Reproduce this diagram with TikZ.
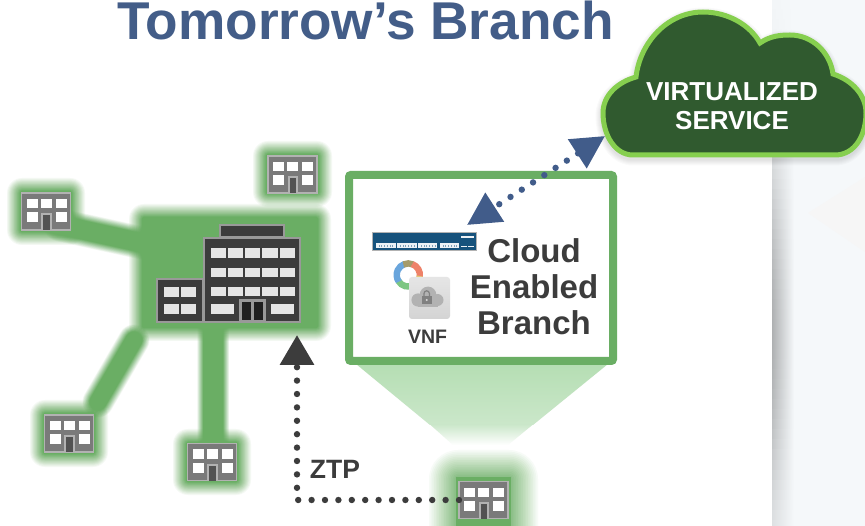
\documentclass[tikz,border=0pt]{standalone}
\usepackage{fontspec}
\setmainfont{Liberation Sans}
\usetikzlibrary{arrows.meta,calc}
\definecolor{titleblue}{HTML}{435D88}
\definecolor{arrowblue}{HTML}{415C8A}
\definecolor{glowgreen}{HTML}{6AAE64}
\definecolor{framegreen}{HTML}{6AAE64}
\definecolor{darktext}{HTML}{3C3C3C}
\definecolor{panelc}{HTML}{F5F8FA}
\definecolor{clouddark}{HTML}{305A2F}
\definecolor{cloudedge}{HTML}{86CF4F}
\definecolor{switchblue}{HTML}{16527C}
\tikzset{
  x=1pt,y=-1pt,
  label text/.style={text=darktext,font=\bfseries,inner sep=0pt,align=center},
  branch/.style={rectangle,inner sep=0pt,outer sep=0pt,minimum width=49pt,minimum height=37pt,
    fill=black!52,draw=black!30,line width=1.6pt},
  hqblock/.style={rectangle,inner sep=0pt,outer sep=0pt,fill=darktext,draw=black!40,line width=2pt},
  hqwin/.style={fill=black!10},
  dotline/.style={line width=6.4pt,line cap=round,dash pattern=on 0pt off 13.4pt},
}
% soft box: x1 y1 x2 y2 spread (linear alpha ramp)
\newcommand{\softbox}[5]{%
  \foreach \dd in {1,...,14}{%
    \pgfmathsetmacro\ds{#5*(15-\dd)/14}%
    \pgfmathsetmacro\op{1/(16-\dd)}%
    \fill[glowgreen,opacity=\op,rounded corners={\ds*1pt+2pt}] ({#1-\ds},{#2-\ds}) rectangle ({#3+\ds},{#4+\ds});
  }%
  \fill[glowgreen,rounded corners=2pt] (#1,#2) rectangle (#3,#4);
}
% soft link: from to core-width spread
\newcommand{\softlink}[4]{%
  \foreach \dd in {1,...,12}{%
    \pgfmathsetmacro\ds{#3+2*#4*(13-\dd)/12}%
    \pgfmathsetmacro\op{1/(14-\dd)}%
    \draw[glowgreen,opacity=\op,line cap=round,line width=\ds pt] (#1) -- (#2);
  }%
  \draw[glowgreen,line cap=round,line width=#3 pt] (#1) -- (#2);
}
% windows and door of a small branch building
\newcommand{\branchdetail}[1]{%
  \begin{scope}[shift={(#1.north west)}]
    \foreach \wx in {5,19,34}{\fill[white] (\wx,6) rectangle ++(11,9.5);}
    \fill[white] (5,19.5) rectangle ++(11,9.5);
    \fill[white] (34,19.5) rectangle ++(11,9.5);
    \fill[black!30] (19.5,20) rectangle (30,37);
    \fill[black!68] (21.5,22) rectangle (28,37);
  \end{scope}}
\def\cloudpath{(633,155) .. controls (615,155) and (603,135) .. (603,113)
  .. controls (603,95) and (618,82) .. (636,77)
  .. controls (640,42) and (668,12) .. (703,12)
  .. controls (728,12) and (750,25) .. (760,43)
  .. controls (770,36) and (780,35) .. (790,35)
  .. controls (812,35) and (830,52) .. (833,74)
  .. controls (852,80) and (866,95) .. (866,113)
  .. controls (866,135) and (855,155) .. (835,155) -- cycle}
\begin{document}
\begin{tikzpicture}
\useasboundingbox (0,0) rectangle (865,526);
\clip (0,0) rectangle (865,526);
% background panel
\fill[white] (0,0) rectangle (865,526);
\fill[panelc] (772,0) rectangle (865,526);
\fill[black!3.5] (808,213) -- (865,177) -- (865,252) -- cycle;
\foreach \yy in {0,10,...,520}{
  \pgfmathsetmacro\pp{29*exp(-((\yy-330)/179)*((\yy-330)/179))}
  \shade[left color=black!\pp!panelc,right color=panelc,shading angle=90]
    (772,\yy) rectangle (794,\yy+10.5);
}
% named ends of the soft links
\coordinate (linkLa) at (60,225);
\coordinate (linkLb) at (142,243);
\coordinate (linkBLa) at (134,340);
\coordinate (linkBLb) at (98,402);
\coordinate (linkBa) at (213,325);
\coordinate (linkBb) at (213,445);
% trapezoid
\shade[top color={rgb,255:red,181;green,222;blue,179},bottom color={rgb,255:red,203;green,231;blue,202}]
  (356,364) -- (608,364) -- (533,425) -- (430,425) -- cycle;
\shade[top color={rgb,255:red,203;green,231;blue,202},bottom color=white]
  (430,424.5) -- (533,424.5) -- (508,445) -- (453,445) -- cycle;
% glows
\softbox{142}{217}{318}{328}{13}
\softbox{266}{154}{319}{194}{13}
\softbox{20}{191}{72}{232}{13}
\softbox{43}{413}{95}{454}{13}
\softbox{186}{442}{238}{482}{13}
\softlink{linkLa}{linkLb}{19}{7}
\softlink{linkBLa}{linkBLb}{17}{7}
\softlink{linkBa}{linkBb}{20}{6}
% bottom branch glow (paler with a solid core)
\foreach \dd in {1,...,16}{
  \pgfmathsetmacro\ds{27*(17-\dd)/16}
  \pgfmathsetmacro\op{.75/(16-.75*(\dd-1))}
  \fill[fill=glowgreen,opacity=\op,rounded corners={\ds*1pt+2pt}] ({456-\ds},{477-\ds}) rectangle ({511+\ds},{560});
}
\fill[glowgreen] (456,477) rectangle (511,526);
% branches
\node[branch] (br1) at (292.5,174.5) {};
\node[branch] (br2) at (46,211.5) {};
\node[branch] (br3) at (69,433.5) {};
\node[branch] (br4) at (212,462) {};
\node[branch] (br5) at (483.5,500) {};
\branchdetail{br1}\branchdetail{br2}\branchdetail{br3}\branchdetail{br4}\branchdetail{br5}
% headquarters
\node[hqblock,minimum width=64pt,minimum height=12pt] (hqtop) at (252,231) {};
\node[hqblock,minimum width=46pt,minimum height=43pt] (hqwing) at (180,300.5) {};
\node[hqblock,minimum width=96pt,minimum height=84pt] (hq) at (252,280) {};
\foreach \wy in {248.3,267.7,286.7}{
  \foreach \wx in {210.7,227.9,245,262.3,279.7}{
    \fill[hqwin] (\wx,\wy) rectangle ++(15.2,9.6);
  }
}
\fill[hqwin] (211,304.3) rectangle (234,314.3);
\fill[hqwin] (271,304.3) rectangle (294.3,314.3);
\fill[black!40] (239,299.3) rectangle (266,322);
\fill[black!88] (241.7,301.7) rectangle (250.7,320);
\fill[black!88] (253.7,301.7) rectangle (263.3,320);
\foreach \wx in {163.7,181}{
  \foreach \wy in {286.7,304.3}{
    \fill[hqwin] (\wx,\wy) rectangle ++(15.2,10);
  }
}
% branch frame
\node[rectangle,draw=framegreen,fill=white,line width=8pt,rounded corners=2pt,inner sep=0pt,outer sep=0pt,
  minimum width=264pt,minimum height=186pt] (frame) at (481,268) {};
% switch
\node[rectangle,fill=switchblue,draw=black!30,line width=1.5pt,inner sep=0pt,outer sep=0pt,
  minimum width=104pt,minimum height=18pt] (switch) at (424.5,241.5) {};
\foreach \px/\pw in {376/19.7,397.3/19.4,418.3/19,440/19.3}{
  \fill[white!92!switchblue] (\px,242.8) rectangle ++(\pw,5.2);
  \foreach \tk in {1,...,6}{
    \fill[switchblue!55!white] ({\px+\tk*2.7},244.6) rectangle ++(1,2.2);
  }
}
\fill[white!92!switchblue] (461,236) rectangle (474.3,238.2);
\fill[white!92!switchblue] (461,245.6) rectangle (466.7,247.4);
\fill[white!92!switchblue] (468.3,245.6) rectangle (474.3,247.4);
% coloured ring
\begin{scope}[line width=6.4pt]
  \draw[color={rgb,255:red,125;green,198;blue,130}] (408.3,275) ++(60:11.6) arc (60:150:11.6);
  \draw[color={rgb,255:red,105;green,165;blue,220}] (408.3,275) ++(145:11.6) arc (145:250:11.6);
  \draw[color={rgb,255:red,165;green,155;blue,105}] (408.3,275) ++(245:11.6) arc (245:295:11.6);
  \draw[color={rgb,255:red,238;green,130;blue,105}] (408.3,275) ++(290:11.6) arc (290:370:11.6);
  \draw[color={rgb,255:red,228;green,195;blue,110}] (408.3,275) ++(365:11.6) arc (365:420:11.6);
\end{scope}
% VNF icon
\node[rectangle,rounded corners=3pt,top color=black!10,bottom color=black!17,inner sep=0pt,outer sep=0pt,
  minimum width=41pt,minimum height=42pt] (vnficon) at (429.5,298) {};
\fill[black!30] (418,306.7) rectangle (438,296);
\fill[black!30] (418,300) circle (6.6);
\fill[black!30] (428,295) circle (8.4);
\fill[black!30] (437.5,300) circle (6);
\fill[black!50] (421.7,296) rectangle (431.7,304);
\draw[black!50,line width=1.2pt] (424,296) -- (424,293.5) arc (180:360:2.7) -- (429.4,296);
\fill[black!15] (426.7,300) circle (1.1);
% texts
\node[anchor=base,text=titleblue,font=\bfseries\fontsize{53.2}{60}\selectfont,inner sep=0pt] (title) at (365.5,40) {Tomorrow’s Branch};
\node[label text,font=\bfseries\fontsize{33}{36}\selectfont] (cebt) at (534,287) {Cloud\\Enabled\\Branch};
\node[label text,anchor=base,font=\bfseries\fontsize{19.5}{22}\selectfont] (vnf) at (427.5,344) {VNF};
\node[label text,anchor=base,font=\bfseries\fontsize{26.5}{30}\selectfont] (ztp) at (335,478.5) {ZTP};
% cloud
\foreach \dd in {1,...,6}{
  \draw[black,opacity=.02,line width={\dd*2pt+3pt},line join=round] [shift={(0,3)}] \cloudpath;
}
\draw[fill=clouddark,draw=cloudedge,line width=5pt] \cloudpath;
\node[text=white,font=\bfseries\fontsize{26}{29}\selectfont,align=center,inner sep=0pt] (vs) at (732,106) {VIRTUALIZED\\SERVICE};
% connectors
\coordinate (cloudtip) at (605,136);
\coordinate (switchtip) at (467,225);
\coordinate (hqtip) at (297,335);
\draw[arrowblue,dotline,dash phase=6.4pt,{Triangle[width=33pt,length=33pt]}-{Triangle[width=33pt,length=33pt]}] (switchtip) -- (cloudtip);
\draw[darktext,dotline,-{Triangle[width=33pt,length=30pt]}] (br5.west) -| (hqtip);
\end{tikzpicture}
\end{document}
